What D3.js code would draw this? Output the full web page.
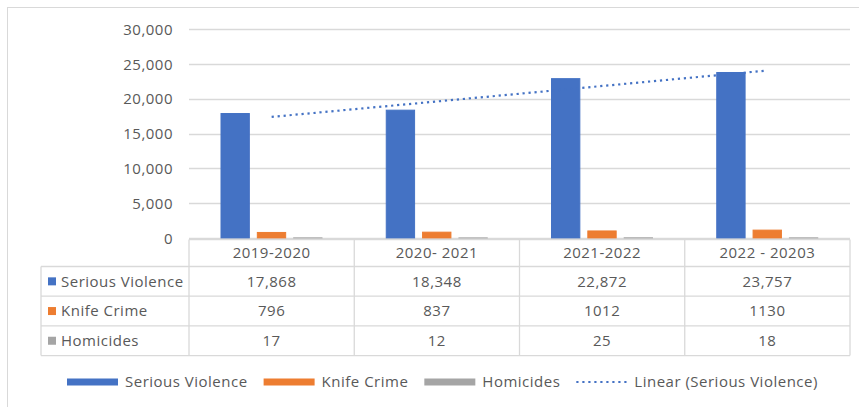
<!DOCTYPE html>
<html>
<head>
<meta charset="utf-8">
<script src="https://cdn.jsdelivr.net/npm/d3@7"></script>
<style>
  body { margin: 0; background: #fff; }
  text { font-family: "Open Sans", Lato, sans-serif; font-size: 15px; letter-spacing: 0.5px; fill: #595959; }
</style>
</head>
<body>
<div id="chart-area"></div>
<script>
// Datos
var categories = ["2019-2020", "2020- 2021", "2021-2022", "2022 - 20203"];
var seriesNames = ["Serious Violence", "Knife Crime", "Homicides"];
var seriousViolence = [17868, 18348, 22872, 23757];
var knifeCrime = [796, 837, 1012, 1130];
var homicides = [17, 12, 25, 18];
var yTicks = [0, 5000, 10000, 15000, 20000, 25000, 30000];
var trendName = "Linear (Serious Violence)";

var colors = ["#4472C4", "#ED7D31", "#A5A5A5"];
var series = [seriousViolence, knifeCrime, homicides];
var formats = [d3.format(","), d3.format("d"), d3.format("d")];

var margin = {top: 29, left: 189};
var width = 661;
var height = 209;
var gridColor = "#D9D9D9";

var svg = d3.select("#chart-area")
    .append("svg")
    .attr("width", 859)
    .attr("height", 407);

// borde del grafico
svg.append("rect")
    .attr("x", 7.5).attr("y", 7.5)
    .attr("width", 870).attr("height", 420)
    .attr("fill", "none")
    .attr("stroke", gridColor);

var g = svg.append("g")
    .attr("transform", "translate(" + margin.left + "," + margin.top + ")");

// escalas
var x0 = d3.scaleBand().domain(categories).range([0, width]);
var x1 = d3.scaleBand().domain(seriesNames).range([32, 133]).paddingInner(0.22);
var y = d3.scaleLinear().domain([0, 30000]).range([height, 0]);

// eje y + grid
var leftAxis = d3.axisLeft(y).tickValues(yTicks).tickFormat(d3.format(","))
    .tickSize(0).tickPadding(16);
var yAxis = g.append("g").attr("class", "left axis").call(leftAxis);
yAxis.select(".domain").remove();
yAxis.selectAll("text").attr("dy", "0.35em");

g.append("g").attr("class", "grid")
    .selectAll("line").data(yTicks).enter().append("line")
    .attr("x1", 0).attr("x2", width)
    .attr("y1", (d) => { return Math.round(y(d)) + 0.5; })
    .attr("y2", (d) => { return Math.round(y(d)) + 0.5; })
    .attr("stroke", gridColor).attr("stroke-width", 1.3);

// barras
var groups = g.selectAll(".cat").data(categories).enter().append("g")
    .attr("class", "cat")
    .attr("transform", (d) => { return "translate(" + x0(d) + ",0)"; });

groups.selectAll("rect")
    .data((d, i) => { return series.map((s, k) => { return {name: seriesNames[k], value: s[i], k: k}; }); })
    .enter().append("rect")
    .attr("x", (d) => { return x1(d.name); })
    .attr("y", (d) => { return y(d.value); })
    .attr("width", x1.bandwidth())
    .attr("height", (d) => { return height - y(d.value); })
    .attr("fill", (d) => { return colors[d.k]; })
    .attr("stroke", (d) => { return colors[d.k]; })
    .attr("stroke-width", 1);

// linea de tendencia (regresion lineal)
var xs = seriousViolence.map((d, i) => { return i + 1; });
var mx = d3.mean(xs), my = d3.mean(seriousViolence);
var slope = d3.sum(xs, (d, i) => { return (d - mx) * (seriousViolence[i] - my); }) /
            d3.sum(xs, (d) => { return (d - mx) * (d - mx); });
var trend = categories.map((c, i) => { return {c: c, v: my + slope * (i + 1 - mx)}; });
var ends = [trend[0], trend[trend.length - 1]];

g.append("path")
    .datum(ends)
    .attr("d", d3.line()
        .x((d) => { return x0(d.c) + x0.bandwidth() / 2; })
        .y((d) => { return y(d.v); }))
    .attr("fill", "none")
    .attr("stroke", "#4472C4")
    .attr("stroke-width", 2.2)
    .attr("stroke-dasharray", "2.2,3.8");

// tabla de datos
var headerTop = height + 1.5;
var headerH = 27;
var rowH = 29.7;
var labelLeft = -148;
var table = g.append("g").attr("class", "data-table");

table.selectAll(".hdr").data(categories).enter().append("text")
    .attr("class", "hdr")
    .attr("x", (d) => { return x0(d) + x0.bandwidth() / 2; })
    .attr("y", headerTop + headerH / 2)
    .attr("dy", "0.35em")
    .attr("text-anchor", "middle")
    .text((d) => { return d; });

series.forEach((s, k) => {
    var cy = headerTop + headerH + rowH * k + rowH / 2;
    table.append("rect")
        .attr("x", labelLeft + 7).attr("y", cy - 4)
        .attr("width", 8).attr("height", 8)
        .attr("fill", colors[k]);
    table.append("text")
        .attr("x", labelLeft + 20).attr("y", cy).attr("dy", "0.35em")
        .text(seriesNames[k]);
    table.selectAll(".v" + k).data(s).enter().append("text")
        .attr("x", (d, i) => { return x0(categories[i]) + x0.bandwidth() / 2; })
        .attr("y", cy).attr("dy", "0.35em")
        .attr("text-anchor", "middle")
        .text((d) => { return formats[k](d); });
});

var bottom = headerTop + headerH + rowH * series.length;
var hLines = [headerTop, headerTop + headerH, headerTop + headerH + rowH, headerTop + headerH + 2 * rowH, bottom];
table.selectAll(".hl").data(hLines).enter().append("line")
    .attr("x1", (d, i) => { return i === 0 ? 0 : labelLeft; })
    .attr("x2", width)
    .attr("y1", (d) => { return d; }).attr("y2", (d) => { return d; })
    .attr("stroke", gridColor).attr("stroke-width", 1.3);

var vLines = categories.map((c) => { return x0(c); }).concat([width]);
table.selectAll(".vl").data(vLines).enter().append("line")
    .attr("x1", (d) => { return d; }).attr("x2", (d) => { return d; })
    .attr("y1", headerTop).attr("y2", bottom)
    .attr("stroke", gridColor).attr("stroke-width", 1.3);
table.append("line")
    .attr("x1", labelLeft).attr("x2", labelLeft)
    .attr("y1", headerTop + headerH).attr("y2", bottom)
    .attr("stroke", gridColor).attr("stroke-width", 1.3);

// leyenda
var legend = svg.append("g").attr("class", "legend").attr("transform", "translate(67,382)");
var legendItems = seriesNames.concat([trendName]);
var lx = 0;
legendItems.forEach((name, k) => {
    if (k < 3) {
        legend.append("rect")
            .attr("x", lx).attr("y", -3.5)
            .attr("width", 51).attr("height", 7)
            .attr("fill", colors[k]);
    } else {
        legend.append("line")
            .attr("x1", lx).attr("x2", lx + 51)
            .attr("y1", 0).attr("y2", 0)
            .attr("stroke", "#4472C4").attr("stroke-width", 2.2)
            .attr("stroke-dasharray", "2.2,3.8");
    }
    var t = legend.append("text")
        .attr("x", lx + 58).attr("y", 0).attr("dy", "0.35em")
        .text(name);
    lx += 58 + t.node().getComputedTextLength() + 16;
});
</script>
</body>
</html>
